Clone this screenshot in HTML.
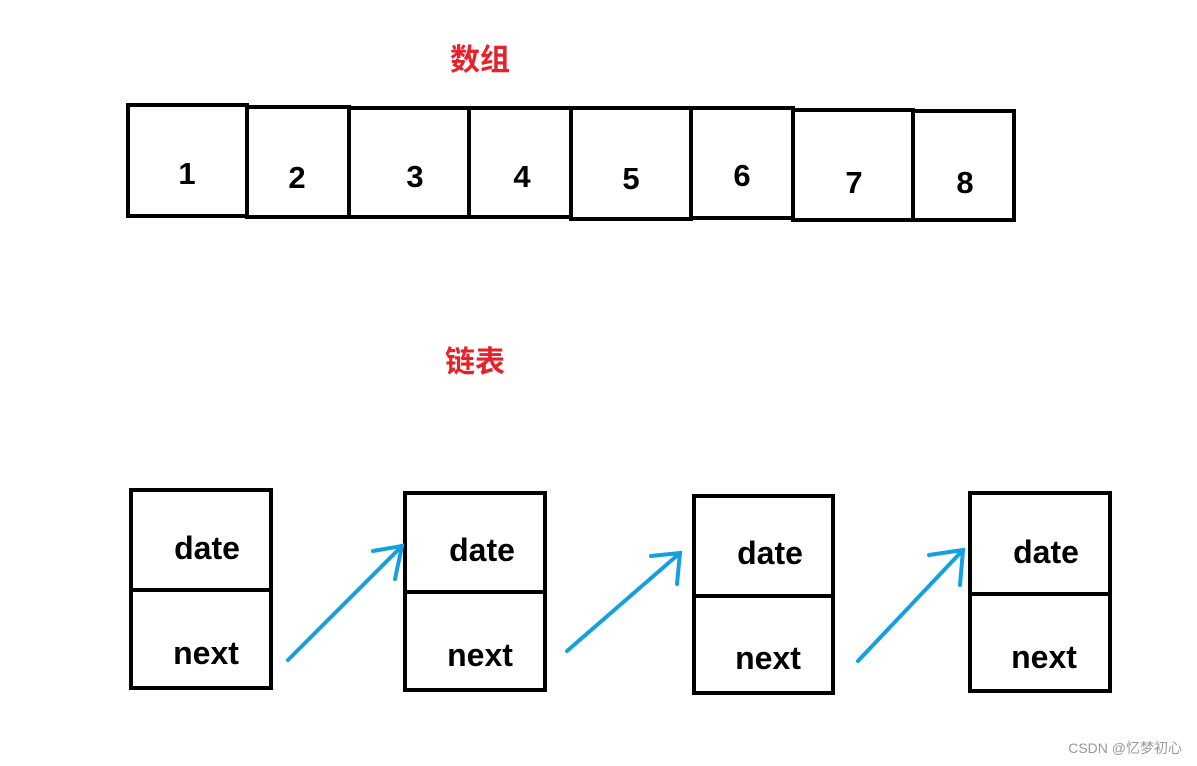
<!DOCTYPE html>
<html><head><meta charset="utf-8"><style>
html,body{margin:0;padding:0;background:#fff;}
svg{display:block;}
</style></head><body>
<svg width="1197" height="766" xmlns="http://www.w3.org/2000/svg">
<rect width="1197" height="766" fill="#fff"/>
<g font-family="'Liberation Sans','Noto Sans CJK SC',sans-serif" font-weight="bold">
<text x="480" y="70" fill="#e8202a" font-size="30" text-anchor="middle">数组</text>
<text x="475" y="372" fill="#e8202a" font-size="30" text-anchor="middle">链表</text>
</g>
<g fill="none" stroke="#000" stroke-width="4">
<rect x="128" y="105" width="119" height="111"/>
<rect x="247" y="107" width="102" height="110"/>
<rect x="349" y="108" width="120" height="109"/>
<rect x="469" y="108" width="102" height="109"/>
<rect x="571" y="108" width="120" height="111"/>
<rect x="691" y="108" width="102" height="110"/>
<rect x="793" y="110" width="120" height="110"/>
<rect x="913" y="111" width="101" height="109"/>
<rect x="131" y="490" width="140" height="198"/><line x1="131" y1="590" x2="273" y2="590"/>
<rect x="405" y="493" width="140" height="197"/><line x1="405" y1="592" x2="545" y2="592"/>
<rect x="694" y="496" width="139" height="197"/><line x1="694" y1="596" x2="833" y2="596"/>
<rect x="970" y="493" width="140" height="198"/><line x1="970" y1="594" x2="1110" y2="594"/>
</g>
<g font-family="'Liberation Sans',sans-serif" font-weight="bold" font-size="31" fill="#000" text-anchor="middle">
<text x="187" y="184">1</text><text x="297" y="188">2</text><text x="415" y="187">3</text><text x="522" y="187">4</text>
<text x="631" y="189">5</text><text x="742" y="186">6</text><text x="854" y="193">7</text><text x="965" y="193">8</text>
<g font-size="32">
<text x="207" y="559">date</text><text x="206" y="664">next</text>
<text x="482" y="561">date</text><text x="480" y="666">next</text>
<text x="770" y="564">date</text><text x="768" y="669">next</text>
<text x="1046" y="563">date</text><text x="1044" y="668">next</text>
</g>
</g>
<g stroke="#13a0e0" stroke-width="4" stroke-linecap="round" fill="none">
<line x1="288" y1="660" x2="402" y2="546"/><polyline points="373,551 402,546 395,579"/>
<line x1="567" y1="651" x2="680" y2="553"/><polyline points="651,556 680,553 677,584"/>
<line x1="858" y1="661" x2="963" y2="550"/><polyline points="929,555 963,550 960,585"/>
</g>
<text x="1182" y="753" font-family="'Liberation Sans','Noto Sans CJK SC',sans-serif" font-size="14" fill="#999" text-anchor="end">CSDN @忆梦初心</text>
</svg>
</body></html>
